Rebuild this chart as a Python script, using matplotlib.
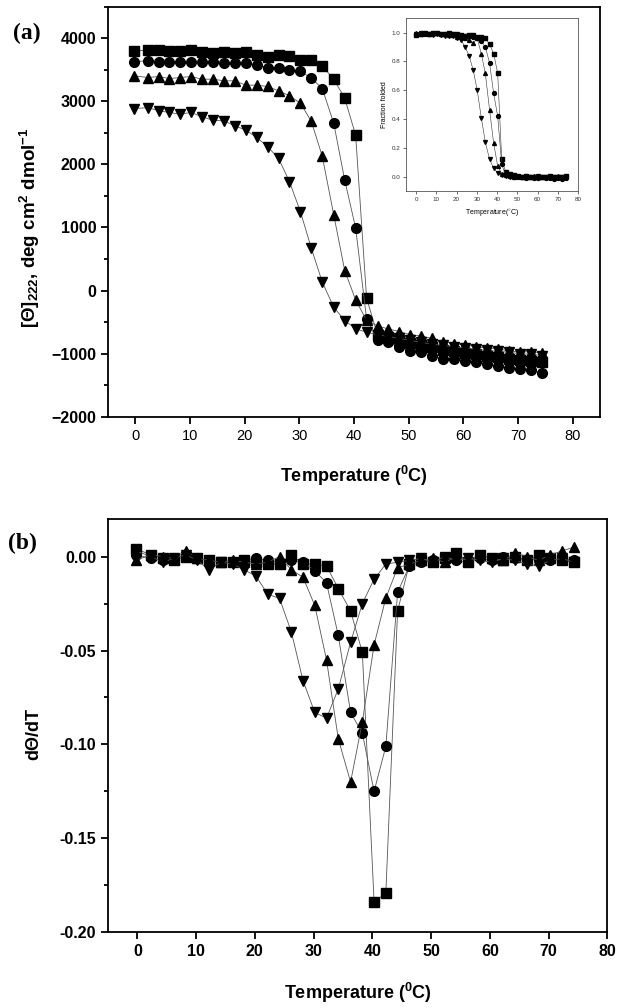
import numpy as np
import matplotlib
matplotlib.use("Agg")
import matplotlib.pyplot as plt
from matplotlib.ticker import MultipleLocator

plt.rcParams['font.family'] = ['Liberation Sans', 'DejaVu Sans']
plt.rcParams['mathtext.fontset'] = 'custom'
plt.rcParams['mathtext.rm'] = 'Liberation Sans:bold'
plt.rcParams['mathtext.it'] = 'Liberation Sans:bold:italic'
plt.rcParams['mathtext.bf'] = 'Liberation Sans:bold'

# temperature grid (deg C)
temp = [-0.2, 2.3, 4.3, 6.2, 8.2, 10.2, 12.2, 14.2, 16.2, 18.2, 20.2, 22.2, 24.2,
        26.2, 28.2, 30.2, 32.2, 34.2, 36.3, 38.3, 40.3, 42.3, 44.3, 46.3, 48.3,
        50.3, 52.3, 54.3, 56.3, 58.3, 60.3, 62.3, 64.3, 66.3, 68.3, 70.3, 72.3, 74.3]

# (a) mean residue ellipticity at 222 nm
theta_sq = [3800, 3810, 3810, 3790, 3790, 3815, 3775, 3760, 3775, 3760, 3775, 3735,
            3705, 3730, 3720, 3650, 3650, 3560, 3350, 3050, 2465, -120,
            -700, -740, -790, -830, -860, -900, -940, -960, -990, -1010, -1040,
            -1060, -1080, -1100, -1110, -1130]
theta_ci = [3631, 3641, 3625, 3625, 3625, 3631, 3625, 3631, 3615, 3615, 3604, 3578,
            3536, 3525, 3500, 3480, 3367, 3203, 2649, 1752, 992, -449,
            -780, -820, -890, -960, -975, -1030, -1080, -1080, -1120, -1130, -1170,
            -1200, -1225, -1245, -1265, -1300]
theta_tr = [3404, 3377, 3393, 3361, 3377, 3393, 3351, 3351, 3325, 3325, 3256, 3256,
            3235, 3166, 3087, 2971, 2681, 2127, 1198, 317, -148, -473,
            -560, -610, -650, -700, -720, -760, -810, -840, -860, -890, -910,
            -920, -960, -975, -970, -985]
theta_dt = [2885, 2900, 2850, 2823, 2797, 2823, 2755, 2700, 2690, 2612, 2543, 2427,
            2280, 2095, 1725, 1250, 670, 132, -264, -475, -607, -660,
            -700, -730, -760, -790, -820, -850, -870, -890, -910, -930, -950,
            -960, -980, -1000, -1010, -1030]

# inset: fraction folded
frac_sq = [0.985, 0.99, 0.995, 0.99, 0.995, 0.995, 0.99, 0.99, 0.995, 0.99, 0.99, 0.985,
           0.98, 0.985, 0.985, 0.97, 0.97, 0.96, 0.92, 0.855, 0.72, 0.12,
           0.03, 0.015, 0.01, 0.005, 0.0, 0.005, 0.0, -0.005, 0.0, 0.0, -0.005,
           0.005, 0.0, 0.0, -0.005, 0.005]
frac_ci = [0.99, 0.995, 0.99, 0.99, 0.99, 0.995, 0.99, 0.99, 0.99, 0.99, 0.985, 0.98,
           0.975, 0.975, 0.97, 0.965, 0.94, 0.90, 0.79, 0.58, 0.42, 0.085,
           0.01, 0.005, 0.0, -0.005, -0.005, -0.01, -0.005, -0.01, -0.01, -0.005, -0.01,
           -0.01, -0.015, -0.01, -0.015, -0.01]
frac_tr = [0.995, 0.99, 0.995, 0.99, 0.995, 1.0, 0.99, 0.99, 0.985, 0.985, 0.97, 0.97,
           0.965, 0.95, 0.93, 0.96, 0.855, 0.717, 0.464, 0.234, 0.073, 0.02,
           0.01, 0.005, 0.0, 0.005, 0.0, -0.005, 0.0, 0.005, 0.0, -0.005, 0.0,
           0.005, 0.0, 0.005, 0.0, 0.005]
frac_dt = [0.99, 0.995, 0.99, 0.99, 0.985, 0.99, 0.985, 0.98, 0.98, 0.975, 0.965, 0.95,
           0.90, 0.84, 0.74, 0.60, 0.41, 0.24, 0.12, 0.06, 0.023, 0.01,
           0.005, 0.0, 0.0, -0.005, 0.0, 0.0, -0.005, 0.0, 0.005, 0.0, -0.005,
           0.0, 0.0, -0.005, 0.0, 0.0]

# (b) first derivative
dth_sq = [0.004, 0.001, -0.001, -0.002, 0.000, -0.001, -0.002, -0.003, -0.003, -0.002,
          -0.003, -0.004, -0.004, 0.001, -0.004, -0.004, -0.005, -0.017, -0.029, -0.051,
          -0.184, -0.179, -0.029, -0.004, -0.002, -0.003, -0.001, 0.002, -0.003, 0.001,
          -0.001, -0.002, 0.000, -0.002, 0.001, -0.001, -0.002, -0.003]
dth_ci = [0.001, -0.001, -0.002, -0.001, 0.001, -0.001, -0.002, -0.003, -0.003, -0.002,
          -0.001, -0.002, -0.003, -0.002, -0.003, -0.0075, -0.014, -0.042, -0.083, -0.094,
          -0.125, -0.101, -0.019, -0.005, -0.003, -0.002, -0.001, -0.002, -0.003, -0.001,
          -0.002, 0.000, -0.001, -0.002, -0.001, -0.002, -0.001, -0.002]
dth_tr = [-0.002, 0.001, 0.000, -0.001, 0.003, -0.001, -0.002, -0.003, -0.002, -0.003,
          -0.004, -0.003, 0.000, -0.007, -0.011, -0.026, -0.055, -0.097, -0.120, -0.088,
          -0.047, -0.022, -0.006, -0.004, -0.002, -0.001, -0.003, 0.000, -0.002, 0.001,
          -0.001, -0.002, 0.002, 0.000, -0.002, 0.001, 0.003, 0.005]
dth_dt = [0.003, 0.000, -0.003, -0.001, 0.001, -0.002, -0.007, -0.003, -0.004, -0.007,
          -0.0105, -0.020, -0.0223, -0.040, -0.066, -0.083, -0.086, -0.0705, -0.0456, -0.025,
          -0.012, -0.004, -0.003, -0.002, -0.001, -0.003, 0.000, -0.002, -0.001, -0.002,
          -0.003, -0.001, -0.002, -0.004, -0.005, -0.002, -0.001, -0.003]

markers = ['s', 'o', '^', 'v']
sizes = [6.5, 7, 7.5, 7.5]

W, H = 624, 1008
fig = plt.figure(figsize=(W / 100, H / 100), dpi=100)

def style_axes(ax, lw=1.3):
    for s in ax.spines.values():
        s.set_linewidth(lw)
    ax.tick_params(which='both', direction='out', top=False, right=False, width=lw)
    ax.tick_params(which='major', length=5)
    ax.tick_params(which='minor', length=3)

# ---- panel (a)
ax1 = fig.add_axes([108 / W, 1 - 416.7 / H, 492 / W, 410 / H])
for y, m, ms in zip([theta_sq, theta_ci, theta_tr, theta_dt], markers, sizes):
    ax1.plot(temp, y, '-', color='#555555', lw=0.6, marker=m, ms=ms,
             mfc='black', mec='black')
ax1.set_xlim(-5, 85)
ax1.set_ylim(-2000, 4500)
ax1.yaxis.set_major_locator(MultipleLocator(1000))
ax1.yaxis.set_minor_locator(MultipleLocator(500))
ax1.set_xticks(np.arange(0, 81, 10))
style_axes(ax1)
for lab in ax1.get_yticklabels():
    lab.set_fontweight('bold')
    lab.set_fontsize(11.5)
for lab in ax1.get_xticklabels():
    lab.set_fontsize(10.5)
ax1.set_xlabel(r'Temperature ($^{0}$C)', fontsize=13, fontweight='bold')
ax1.xaxis.set_label_coords(0.5, -0.115)
ax1.set_ylabel(r'[Θ]$_{\mathit{222}}$, deg cm$^{2}$ dmol$^{-1}$', fontsize=13.5,
               fontweight='bold')
ax1.yaxis.set_label_coords(-0.135, 0.46)

# ---- inset
axi = fig.add_axes([406 / W, 1 - 191 / H, 172 / W, 172.7 / H])
for y, m in zip([frac_sq, frac_ci, frac_tr, frac_dt], markers):
    axi.plot(temp, y, '-', color='#333333', lw=0.4, marker=m, ms=2.8,
             mfc='black', mec='black')
axi.set_xlim(-5, 80)
axi.set_ylim(-0.1, 1.1)
axi.set_xticks(np.arange(0, 81, 10))
axi.set_yticks([0.0, 0.2, 0.4, 0.6, 0.8, 1.0])
axi.set_yticklabels(['0.0', '0.2', '0.4', '0.6', '0.8', '1.0'])
for s in axi.spines.values():
    s.set_linewidth(0.6)
    s.set_color('#555555')
axi.tick_params(direction='out', length=2, width=0.5, labelsize=4.5, pad=2,
                colors='#333333')
axi.set_xlabel(r'Temperature($^{\circ}$C)', fontsize=5, labelpad=4)
axi.set_ylabel('Fraction folded', fontsize=5, labelpad=3)

# ---- panel (b)
ax2 = fig.add_axes([108 / W, 1 - 932.3 / H, 499.3 / W, 413.3 / H])
for y, m, ms in zip([dth_sq, dth_ci, dth_tr, dth_dt], markers, sizes):
    ax2.plot(temp, y, '-', color='#555555', lw=0.6, marker=m, ms=ms,
             mfc='black', mec='black')
ax2.set_xlim(-5, 80)
ax2.set_ylim(-0.20, 0.02)
ax2.set_xticks(np.arange(0, 81, 10))
ax2.set_yticks([0.0, -0.05, -0.10, -0.15, -0.20])
ax2.set_yticklabels(['0.00', '-0.05', '-0.10', '-0.15', '-0.20'])
ax2.yaxis.set_minor_locator(MultipleLocator(0.025))
style_axes(ax2)
for lab in ax2.get_xticklabels() + ax2.get_yticklabels():
    lab.set_fontweight('bold')
    lab.set_fontsize(11.5)
ax2.set_xlabel(r'Temperature ($^{0}$C)', fontsize=13, fontweight='bold')
ax2.xaxis.set_label_coords(0.5, -0.118)
ax2.set_ylabel('dΘ/dT', fontsize=13, fontweight='bold')
ax2.yaxis.set_label_coords(-0.132, 0.48)

# panel letters
fig.text(27 / W, 1 - 33 / H, '(a)', family=['Liberation Serif', 'DejaVu Serif'],
         fontsize=17, fontweight='bold', ha='center', va='center')
fig.text(22 / W, 1 - 543 / H, '(b)', family=['Liberation Serif', 'DejaVu Serif'],
         fontsize=17, fontweight='bold', ha='center', va='center')

fig.savefig('out.png', dpi=100)
